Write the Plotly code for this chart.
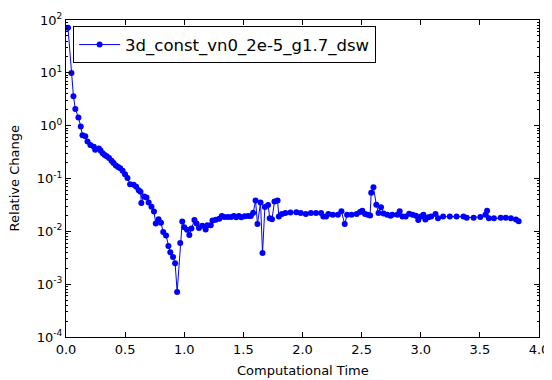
import plotly.graph_objects as go

series_name = "3d_const_vn0_2e-5_g1.7_dsw"

time = [
    0.017, 0.046, 0.063, 0.079, 0.105, 0.125, 0.139, 0.163, 0.182, 0.206,
    0.235, 0.247, 0.278, 0.292, 0.310, 0.327, 0.344, 0.364, 0.385, 0.402,
    0.422, 0.441, 0.458, 0.479, 0.499, 0.520, 0.542, 0.572, 0.594, 0.615,
    0.630, 0.637, 0.660, 0.681, 0.699, 0.723, 0.744, 0.759, 0.783, 0.803,
    0.822, 0.846, 0.866, 0.882, 0.905, 0.923, 0.940, 0.966, 0.983, 1.000,
    1.024, 1.043, 1.061, 1.086, 1.104, 1.124, 1.153, 1.181, 1.196, 1.224,
    1.239, 1.267, 1.296, 1.318, 1.339, 1.368, 1.396, 1.419, 1.439, 1.462,
    1.482, 1.511, 1.540, 1.563, 1.583, 1.603, 1.619, 1.645, 1.662, 1.682,
    1.709, 1.723, 1.742, 1.763, 1.789, 1.800, 1.826, 1.855, 1.898, 1.948,
    1.985, 2.028, 2.071, 2.114, 2.157, 2.176, 2.200, 2.219, 2.256, 2.299,
    2.329, 2.357, 2.377, 2.415, 2.458, 2.486, 2.506, 2.529, 2.552, 2.572,
    2.581, 2.600, 2.624, 2.643, 2.664, 2.686, 2.716, 2.744, 2.759, 2.802,
    2.822, 2.845, 2.873, 2.902, 2.931, 2.959, 2.979, 3.002, 3.022, 3.039,
    3.065, 3.088, 3.125, 3.146, 3.189, 3.246, 3.303, 3.361, 3.389, 3.447,
    3.504, 3.547, 3.561, 3.576, 3.619, 3.676, 3.719, 3.762, 3.805, 3.828,
]

relative_change = [
    71, 9.9, 3.6, 2.06, 1.43, 0.96, 0.66, 0.63, 0.50, 0.43,
    0.40, 0.35, 0.37, 0.34, 0.30, 0.277, 0.265, 0.245, 0.216, 0.197,
    0.177, 0.165, 0.156, 0.14, 0.12, 0.102, 0.078, 0.076, 0.070, 0.060,
    0.0564, 0.0345, 0.0457, 0.0437, 0.035, 0.0292, 0.0237, 0.0141, 0.017, 0.0146,
    0.0097, 0.0083, 0.0053, 0.0040, 0.00327, 0.0025, 0.00071, 0.0060, 0.0154, 0.012,
    0.0107, 0.0085, 0.0113, 0.0164, 0.0141, 0.0116, 0.0127, 0.0108, 0.0131, 0.0131,
    0.016, 0.0166, 0.0173, 0.0195, 0.0187, 0.0187, 0.0187, 0.0195, 0.0185, 0.0195,
    0.0185, 0.0193, 0.0195, 0.0195, 0.0224, 0.0383, 0.0137, 0.035, 0.0039, 0.029,
    0.0316, 0.0177, 0.017, 0.0366, 0.0383, 0.019, 0.0213, 0.0222, 0.0226, 0.023,
    0.0222, 0.0213, 0.0222, 0.0222, 0.0222, 0.019, 0.019, 0.0213, 0.0205, 0.0205,
    0.0239, 0.0137, 0.0205, 0.0205, 0.0213, 0.0232, 0.0245, 0.0213, 0.0205, 0.020,
    0.054, 0.068, 0.032, 0.0222, 0.0286, 0.0217, 0.0205, 0.0198, 0.0205, 0.0205,
    0.0239, 0.019, 0.019, 0.0216, 0.0205, 0.0198, 0.0164, 0.019, 0.0205, 0.0168,
    0.0185, 0.019, 0.0213, 0.0177, 0.019, 0.019, 0.019, 0.019, 0.0181, 0.0181,
    0.0187, 0.0205, 0.0245, 0.0177, 0.0177, 0.0181, 0.0181, 0.0177, 0.0168, 0.0156,
]

x_ticks = [0.0, 0.5, 1.0, 1.5, 2.0, 2.5, 3.0, 3.5, 4.0]
x_tick_labels = ["0.0", "0.5", "1.0", "1.5", "2.0", "2.5", "3.0", "3.5", "4.0"]
y_exponents = [-4, -3, -2, -1, 0, 1, 2]
x_title = "Computational Time"
y_title = "Relative Change"

y_ticks = [10.0 ** e for e in y_exponents]
y_tick_labels = ["10<sup>%d</sup>" % e for e in y_exponents]
y_minor = [m * 10.0 ** e for e in y_exponents[:-1] for m in range(2, 10)]

font_family = "DejaVu Sans, Liberation Sans, sans-serif"

fig = go.Figure()
fig.add_trace(go.Scatter(
    x=time, y=relative_change, mode="lines+markers", name=series_name,
    line=dict(color="#0000ff", width=1),
    marker=dict(color="#0000ff", size=6, line=dict(width=0)),
))

axis_common = dict(
    showline=True, linecolor="black", linewidth=1, mirror="allticks",
    ticks="inside", ticklen=5, tickwidth=1, tickcolor="black",
    showgrid=False, zeroline=False, automargin=False,
    tickfont=dict(family=font_family, size=13, color="black"),
)

fig.update_xaxes(
    range=[0, 4], tickmode="array", tickvals=x_ticks, ticktext=x_tick_labels,
    **axis_common,
)
fig.update_yaxes(
    type="log", range=[-4, 2], tickmode="array", tickvals=y_ticks, ticktext=y_tick_labels,
    minor=dict(tickmode="array", tickvals=y_minor, ticks="inside", ticklen=2, tickcolor="black", showgrid=False),
    **axis_common,
)

fig.add_annotation(
    text=x_title, xref="paper", yref="paper", x=0.5, y=-0.107,
    xanchor="center", yanchor="middle", showarrow=False,
    font=dict(family=font_family, size=13, color="black"),
)
fig.add_annotation(
    text=y_title, xref="paper", yref="paper", x=-0.108, y=0.5,
    xanchor="center", yanchor="middle", showarrow=False, textangle=-90,
    font=dict(family=font_family, size=13, color="black"),
)

# page body has an 8px default margin, so the figure is drawn 8px in from the corner
fig.update_layout(
    width=544, height=372,
    margin=dict(l=58, r=13, t=12, b=43),
    paper_bgcolor="white", plot_bgcolor="white",
    font=dict(family=font_family, color="black"),
    showlegend=True,
    legend=dict(
        x=0.015, y=0.98, xanchor="left", yanchor="top",
        bordercolor="black", borderwidth=1, bgcolor="white",
        itemwidth=41,
        font=dict(family=font_family, size=16.5, color="black"),
    ),
)

fig.write_html("out.html")
